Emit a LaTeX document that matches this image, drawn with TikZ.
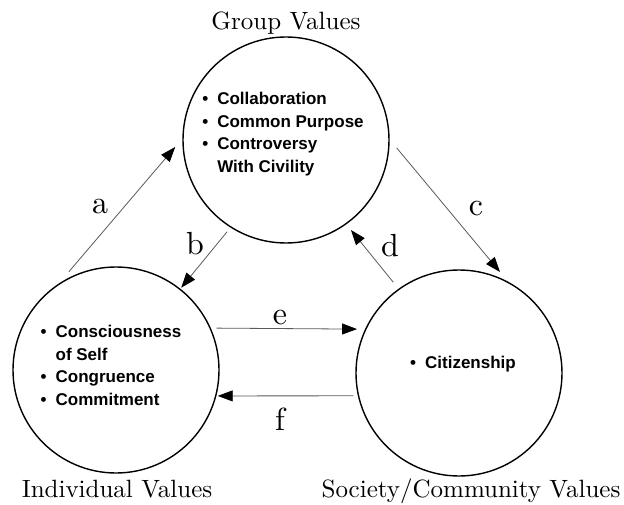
\documentclass[tikz,border=0pt]{standalone}
\usepackage{fontspec}
\newfontfamily\listfont{Liberation Sans}
\newfontfamily\titlefont{lmroman10-regular.otf}
\usetikzlibrary{positioning,calc,arrows.meta}

\tikzset{
  valcircle/.style={circle, draw, line width=1.4pt, minimum size=206pt, inner sep=0pt},
  valtitle/.style={font=\titlefont\fontsize{25}{30}\selectfont, inner sep=0pt},
  valitems/.style={font=\listfont\bfseries\fontsize{17}{22.5}\selectfont, inner sep=0pt},
  flow/.style={draw=black!65, line width=0.8pt, -{Triangle[length=15pt,width=11pt,color=black]}},
  flowlabel/.style={font=\titlefont\fontsize{32}{40}\selectfont, inner sep=0pt}
}

\begin{document}
\begin{tikzpicture}[x=1pt, y=1pt]
                    \useasboundingbox (0,0) rectangle (624,504);
                    % Circles
                    \node [valcircle] (grp) at (286,364) {};
                    \node [valcircle] (ind) at (116,134) {};
                    \node [valcircle] (soc) at (459,131) {};
                    % Titles
                    \node [valtitle, above=2pt of grp] (grptitle) {Group Values};
                    \node [valtitle, anchor=base] (indtitle) at ($(ind.south)+(1pt,-24pt)$) {Individual Values};
                    \node [valtitle, anchor=base] (soctitle) at ($(soc.south)+(12pt,-21pt)$) {Society/Community Values};
                    % Values in each circle
                    \node [valitems] (grplist) at ($(grp)+(-3pt,6pt)$) {\begin{tabular}{@{}l@{\hspace{9pt}}l@{}}
                        \textbullet & Collaboration\\
                        \textbullet & Common Purpose\\
                        \textbullet & Controversy\\
                        & With Civility
                      \end{tabular}};
                    \node [valitems] (indlist) at ($(ind)+(-5pt,3pt)$) {\begin{tabular}{@{}l@{\hspace{9pt}}l@{}}
                        \textbullet & Consciousness\\
                        & of Self\\
                        \textbullet & Congruence\\
                        \textbullet & Commitment
                      \end{tabular}};
                    \node [valitems] (soclist) at ($(soc)+(4pt,9pt)$) {\textbullet\hspace{9pt}Citizenship};
                    % Arrows
                    \draw [flow] ($(ind)+(115.6:109pt)$) -- ($(grp)+(183.6:111pt)$);
                    \draw [flow] ($(grp)+(237.3:109pt)$) -- ($(ind)+(51.6:105pt)$);
                    \draw [flow] ($(grp)+(355.9:111pt)$) -- ($(soc)+(67.9:109pt)$);
                    \draw [flow] ($(soc)+(125.9:112pt)$) -- ($(grp)+(305.8:111pt)$);
                    \draw [flow] ($(ind)+(22.6:109pt)$) -- ($(soc)+(156.7:111pt)$);
                    \draw [flow] ($(soc)+(192.2:108pt)$) -- ($(ind)+(345.7:105pt)$);
                    % Arrow letters
                    \node [flowlabel] (la) at (100,297) {a};
                    \node [flowlabel] (lb) at (195,260.5) {b};
                    \node [flowlabel] (lc) at (476,295) {c};
                    \node [flowlabel] (ld) at (390,258) {d};
                    \node [flowlabel] (le) at (280,186) {e};
                    \node [flowlabel] (lf) at (280,85) {f};
                \end{tikzpicture}
\end{document}
